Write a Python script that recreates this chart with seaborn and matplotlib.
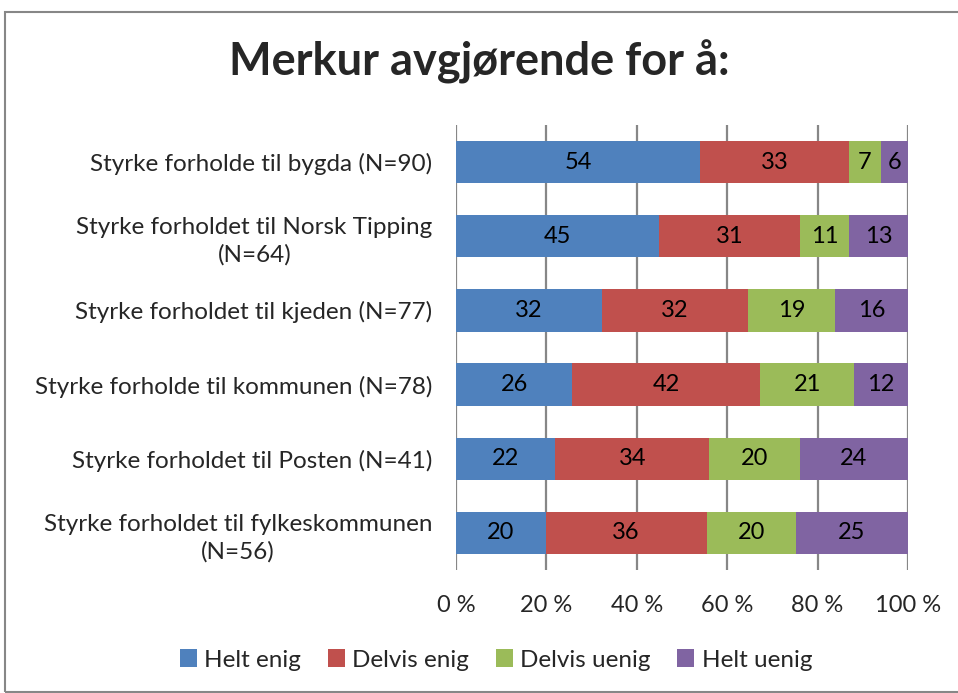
import numpy as np
import pandas as pd
import matplotlib
matplotlib.use("Agg")
import matplotlib.pyplot as plt
import seaborn as sns
from matplotlib.patches import Rectangle, Patch

categories = [
    "Styrke forholde til bygda (N=90)",
    "Styrke forholdet til Norsk Tipping\n(N=64)",
    "Styrke forholdet til kjeden (N=77)",
    "Styrke forholde til kommunen (N=78)",
    "Styrke forholdet til Posten (N=41)",
    "Styrke forholdet til fylkeskommunen\n(N=56)",
]
series = ["Helt enig", "Delvis enig", "Delvis uenig", "Helt uenig"]
helt_enig = [54, 45, 32, 26, 22, 20]
delvis_enig = [33, 31, 32, 42, 34, 36]
delvis_uenig = [7, 11, 19, 21, 20, 20]
helt_uenig = [6, 13, 16, 12, 24, 25]
colors = ["#4F81BD", "#C0504D", "#9BBB59", "#8064A2"]
xticks = [0, 20, 40, 60, 80, 100]
xticklabels = ["0 %", "20 %", "40 %", "60 %", "80 %", "100 %"]

sns.set_theme(style="white")
plt.rcParams["font.family"] = ["Lato", "DejaVu Sans"]

vals = np.array([helt_enig, delvis_enig, delvis_uenig, helt_uenig], dtype=float)
pct = vals / vals.sum(axis=0) * 100
cum = np.cumsum(pct, axis=0)

fig = plt.figure(figsize=(9.58, 6.93), dpi=100)
ax = fig.add_axes([456 / 958, 1 - 570 / 693, (908 - 456) / 958, (570 - 125) / 693])

for i in range(len(series) - 1, -1, -1):
    df = pd.DataFrame({"cat": categories, "val": cum[i]})
    sns.barplot(data=df, x="val", y="cat", color=colors[i], width=0.57,
                ax=ax, saturation=1, orient="h", zorder=2 + (len(series) - i),
                edgecolor="none", linewidth=0)

for i in range(len(series)):
    for j in range(len(categories)):
        center = cum[i, j] - pct[i, j] / 2
        ax.text(center, j, f"{int(vals[i, j])}", ha="center", va="center",
                fontsize=17, color="black", zorder=10)

ax.set_xlim(0, 100)
ax.set_ylim(len(categories) - 0.5, -0.5)
ax.set_xticks(xticks)
ax.set_xticklabels(xticklabels, fontsize=17)
ax.tick_params(axis="x", length=0, pad=18)
ax.tick_params(axis="y", length=0, pad=17)
for lab in ax.get_yticklabels():
    lab.set_fontsize(17.5)
    lab.set_multialignment("center")
    lab.set_linespacing(1.35)
ax.set_xlabel("")
ax.set_ylabel("")
for s in ax.spines.values():
    s.set_visible(False)
for x in xticks:
    ax.axvline(x, color="#878787", lw=1.6, zorder=1)

fig.text(0.5, 1 - 62 / 693, "Merkur avgjørende for å:", ha="center", va="center",
         fontsize=32.5, fontweight="bold")

handles = [Patch(facecolor=c, edgecolor="none") for c in colors]
fig.legend(handles, series, loc="center", bbox_to_anchor=(496 / 958, 1 - 660 / 693),
           ncol=4, frameon=False, fontsize=17.5, handlelength=0.7, handleheight=0.7,
           handletextpad=0.3, columnspacing=1.1)

fig.patches.append(Rectangle((5 / 958, 0.002), 1.2, 1 - 12 / 693 - 0.002,
                             transform=fig.transFigure, fill=False,
                             edgecolor="#878787", lw=1.5))

fig.savefig("out.png", dpi=100)
